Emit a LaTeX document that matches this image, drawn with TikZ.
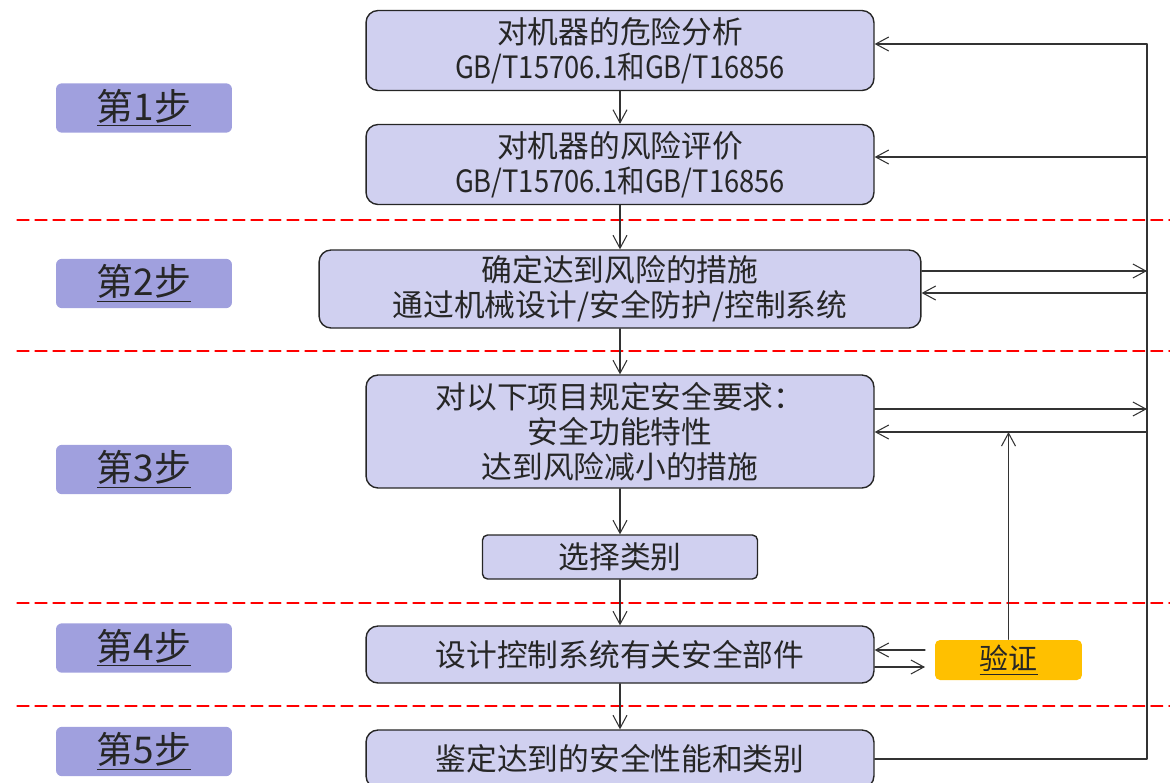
\documentclass[tikz,border=0pt]{standalone}
\usepackage{fontspec}
\setmainfont{Noto Sans CJK SC}
\newfontfamily\stdcode[FakeStretch=0.89]{Noto Sans CJK SC}
\usetikzlibrary{arrows.meta}
\definecolor{boxfill}{RGB}{208,208,240}
\definecolor{stepfill}{RGB}{160,160,222}
\definecolor{checkfill}{RGB}{255,192,0}

\begin{document}
\begin{tikzpicture}[line cap=round,line join=round,>={Straight Barb[length=2.6mm,width=2.8mm]},x=0.02cm,y=-0.02cm,
  stagebox/.style={draw=black!85,fill=boxfill,rounded corners=0.24cm,line width=0.8pt,align=center,font=\fontsize{17.5}{20}\selectfont,text=black!85,inner sep=0pt},
  steplabel/.style={fill=stepfill,rounded corners=0.12cm,minimum width=3.52cm,minimum height=0.88cm,font=\fontsize{21}{24}\selectfont,text=black!85},
  divider/.style={red,dash pattern=on 0.24cm off 0.12cm,line width=0.6pt},
  link/.style={->,draw=black!80,line width=0.6pt}]
\clip (0,0) rectangle (1170,782);
% step labels
\node[steplabel] (s1) at (144,108) {\underline{第1步}};
\node[steplabel] (s2) at (144,283.5) {\underline{第2步}};
\node[steplabel] (s3) at (144,469.5) {\underline{第3步}};
\node[steplabel] (s4) at (144,648) {\underline{第4步}};
\node[steplabel] (s5) at (144,751.5) {\underline{第5步}};
% dividers
\draw[divider] (17,220)--(1170,220);
\draw[divider] (17,351)--(1170,351);
\draw[divider] (17,603)--(1170,603);
\draw[divider] (17,706)--(1170,706);
% main boxes
\node[stagebox,minimum width=10.16cm,minimum height=1.6cm] (A) at (620,50.5) {对机器的危险分析\\{\stdcode GB/T15706.1和GB/T16856}};
\node[stagebox,minimum width=10.16cm,minimum height=1.6cm] (B) at (620,164.5) {对机器的风险评价\\{\stdcode GB/T15706.1和GB/T16856}};
\node[stagebox,minimum width=12.04cm,minimum height=1.56cm] (C) at (620,289) {确定达到风险的措施\\通过机械设计/安全防护/控制系统};
\node[stagebox,minimum width=10.16cm,minimum height=2.26cm] (D) at (620,431.5) {对以下项目规定安全要求：\\安全功能特性\\达到风险减小的措施};
\node[stagebox,rounded corners=0.1cm,minimum width=5.5cm,minimum height=0.88cm] (E) at (620,557) {选择类别};
\node[stagebox,minimum width=10.16cm,minimum height=1.14cm] (F) at (620,654.5) {设计控制系统有关安全部件};
\node[stagebox,minimum width=10.16cm,minimum height=1.16cm] (G) at (620,759) {鉴定达到的安全性能和类别};
\node[stagebox,draw=none,fill=checkfill,rounded corners=0.1cm,minimum width=2.94cm,minimum height=0.8cm,font=\fontsize{16.5}{20}\selectfont] (V) at (1008.5,660) {\underline{验证}};
% main flow
\draw[link] (A)--(B);
\draw[link] (B)--(C);
\draw[link] (C)--(D);
\draw[link] (D)--(E);
\draw[link] (E)--(F);
\draw[link] (F)--(G);
% feedback on the right
\coordinate (r1) at (1147,44);
\coordinate (r2) at (1147,157);
\coordinate (r3a) at (1147,271);
\coordinate (r3b) at (1147,293);
\coordinate (r4a) at (1147,409);
\coordinate (r4b) at (1147,432);
\draw[link,-] (r1)--(G.east -| r1)--(G.east);
\draw[link] (r1)--(r1 -| A.east);
\draw[link] (r2)--(r2 -| B.east);
\draw[link] (r3a -| C.east)--(r3a);
\draw[link] (r3b)--(r3b -| C.east);
\draw[link] (r4a -| D.east)--(r4a);
\draw[link] (r4b)--(r4b -| D.east);
\draw[link] (V.north)--(V.north |- r4b);
% verify and design
\coordinate (v1) at (925,650);
\coordinate (v2) at (925,667);
\draw[link] (v1)--(v1 -| F.east);
\draw[link] (v2 -| F.east)--(v2);
\end{tikzpicture}
\end{document}
